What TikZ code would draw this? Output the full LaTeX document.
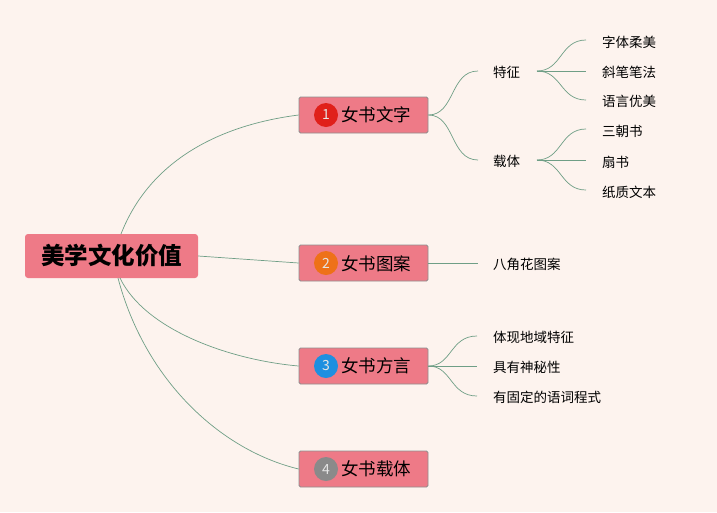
\documentclass[tikz,border=0pt]{standalone}
\usepackage{fontspec}
\newfontfamily\cjk{Noto Sans CJK SC}
\definecolor{bg}{HTML}{FDF3EE}
\definecolor{boxfill}{HTML}{EE7A87}
\definecolor{boxline}{HTML}{8E8E8E}
\definecolor{link}{HTML}{6F9E86}
\definecolor{c1}{HTML}{E0201A}
\definecolor{c2}{HTML}{EE7118}
\definecolor{c3}{HTML}{1E8FE0}
\definecolor{c4}{HTML}{8A8A8A}
\begin{document}
\begin{tikzpicture}[x=1pt,y=-1pt,
  rootbox/.style={draw=none,fill=boxfill,rounded corners=3pt,minimum width=173pt,minimum height=44pt,inner sep=0pt,font=\cjk\bfseries\fontsize{23.5}{25}\selectfont},
  branchbox/.style={draw=boxline,line width=0.8pt,fill=boxfill,rounded corners=1.5pt,minimum width=129pt,minimum height=36pt,inner sep=0pt},
  btext/.style={font=\cjk\fontsize{17.5}{19}\selectfont,anchor=west,inner sep=0pt},
  num/.style={circle,minimum size=24pt,inner sep=0pt,text=white!80!gray,font=\cjk\fontsize{14}{15}\selectfont},
  leaf/.style={font=\cjk\fontsize{13.5}{15}\selectfont,anchor=west,inner sep=0pt},
  lnk/.style={draw=link,line width=0.7pt}]
\fill[bg] (0,0) rectangle (717,512);
\useasboundingbox (0,0) rectangle (717,512);

% root
\node[rootbox] (root) at (111.5,256) {美学文化价值};

% branches
\node[branchbox] (b1) at (363.5,115) {};
\node[branchbox] (b2) at (363.5,263) {};
\node[branchbox] (b3) at (363.5,366) {};
\node[branchbox] (b4) at (363.5,469) {};
\node[num,fill=c1] (n1) at (326,115) {1};
\node[num,fill=c2] (n2) at (326,263) {2};
\node[num,fill=c3] (n3) at (326,366) {3};
\node[num,fill=c4] (n4) at (326,469) {4};
\node[btext] (t1) at (341,115) {女书文字};
\node[btext] (t2) at (341,264) {女书图案};
\node[btext] (t3) at (341,366) {女书方言};
\node[btext] (t4) at (341,469) {女书载体};

% root connectors
\coordinate (rt) at (121,234);
\coordinate (rb1) at (118,278);
\coordinate (rb2) at (120,278);
\draw[lnk] (rt) .. controls (150,160) and (220,125) .. (b1.west);
\draw[lnk] (root.east) -- (b2.west);
\draw[lnk] (rb2) .. controls (145,330) and (230,360) .. (b3.west);
\draw[lnk] (rb1) .. controls (145,380) and (220,450) .. (b4.west);

% level 2 of branch 1
\node[leaf] (tz) at (493,72) {特征};
\node[leaf] (zt) at (493,161) {载体};
\coordinate (tzin) at (478,71);
\coordinate (ztin) at (478,160);
\draw[lnk] (b1.east) .. controls (455,115) and (450,71) .. (tzin);
\draw[lnk] (b1.east) .. controls (455,115) and (450,160) .. (ztin);

\coordinate (tzout) at (537,71);
\coordinate (ztout) at (537,160);
\node[leaf] (l1) at (602,42) {字体柔美};
\node[leaf] (l2) at (602,72) {斜笔笔法};
\node[leaf] (l3) at (602,101) {语言优美};
\node[leaf] (l4) at (602,131) {三朝书};
\node[leaf] (l5) at (602,162) {扇书};
\node[leaf] (l6) at (602,192) {纸质文本};
\coordinate (e1) at (586,40);
\coordinate (e2) at (586,71);
\coordinate (e3) at (586,100);
\coordinate (e4) at (586,129);
\coordinate (e5) at (586,160);
\coordinate (e6) at (586,190);
\draw[lnk] (tzout) .. controls (562,71) and (560,40) .. (e1);
\draw[lnk] (tzout) -- (e2);
\draw[lnk] (tzout) .. controls (562,71) and (560,100) .. (e3);
\draw[lnk] (ztout) .. controls (562,160) and (560,129) .. (e4);
\draw[lnk] (ztout) -- (e5);
\draw[lnk] (ztout) .. controls (562,160) and (560,190) .. (e6);

% branch 2
\node[leaf] (bj) at (493,264) {八角花图案};
\coordinate (bjin) at (478,263);
\draw[lnk] (b2.east) -- (bjin);

% branch 3
\node[leaf] (f1) at (493,337) {体现地域特征};
\node[leaf] (f2) at (493,367) {具有神秘性};
\node[leaf] (f3) at (493,397) {有固定的语词程式};
\coordinate (g1) at (477,336);
\coordinate (g2) at (477,366);
\coordinate (g3) at (477,396);
\draw[lnk] (b3.east) .. controls (452,366) and (450,336) .. (g1);
\draw[lnk] (b3.east) -- (g2);
\draw[lnk] (b3.east) .. controls (452,366) and (450,396) .. (g3);
\end{tikzpicture}
\end{document}
